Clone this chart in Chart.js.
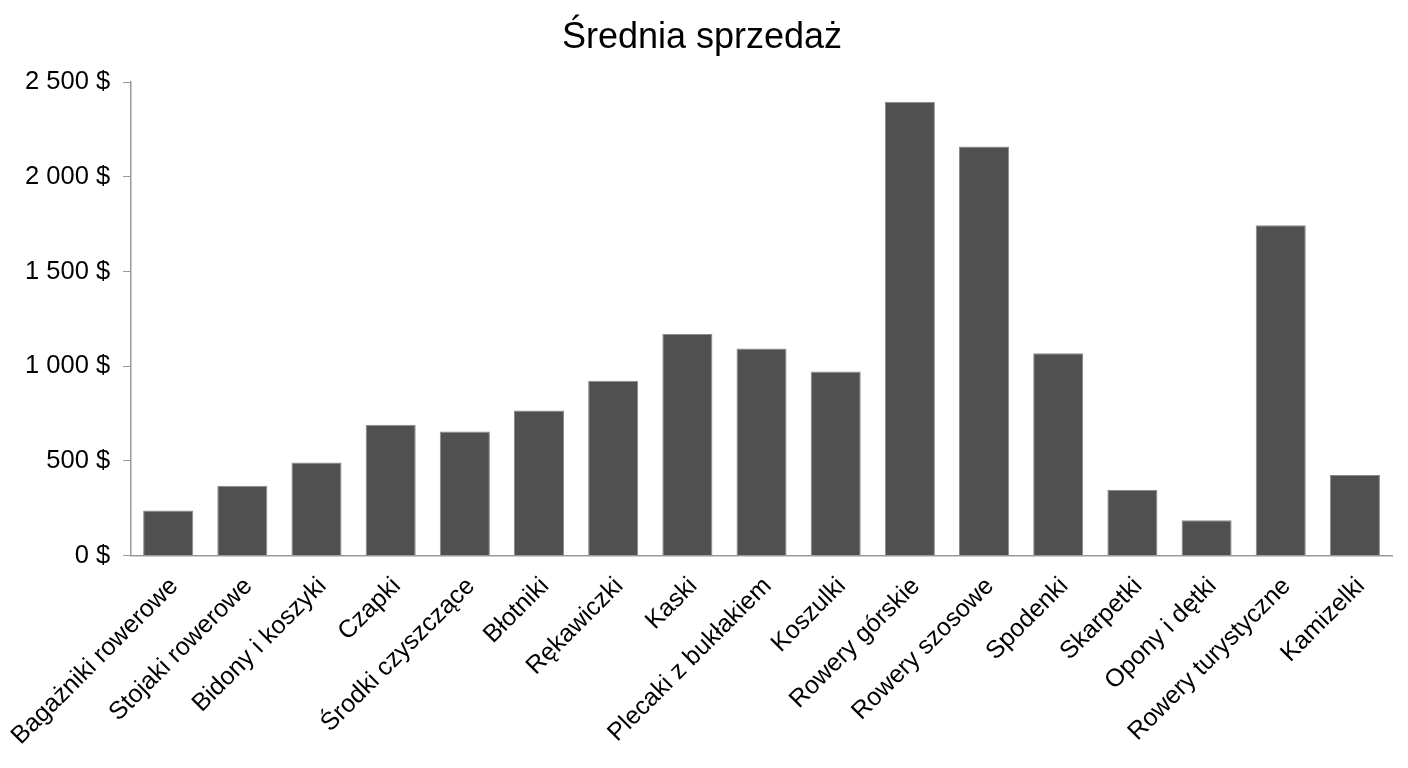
<!DOCTYPE html>
<html>
<head>
<meta charset="utf-8">
<script src="https://cdn.jsdelivr.net/npm/chart.js@4"></script>
<style>
  html, body { margin: 0; padding: 0; background: #ffffff; }
  #wrap { width: 1408px; height: 768px; position: relative; }
</style>
</head>
<body>
<div id="wrap"><canvas id="c" width="1408" height="768"></canvas></div>
<script>
const chartTitle = "Średnia sprzedaż";
const categories = [
  "Bagażniki rowerowe", "Stojaki rowerowe", "Bidony i koszyki", "Czapki",
  "Środki czyszczące", "Błotniki", "Rękawiczki", "Kaski", "Plecaki z bukłakiem",
  "Koszulki", "Rowery górskie", "Rowery szosowe", "Spodenki", "Skarpetki",
  "Opony i dętki", "Rowery turystyczne", "Kamizelki"
];
const avgSales = [238, 369, 491, 691, 656, 766, 924, 1170, 1094, 972, 2397, 2161, 1069, 346, 186, 1745, 426];
const yTicks = [0, 500, 1000, 1500, 2000, 2500];

function fmt(v) {
  return String(v).replace(/\B(?=(\d{3})+(?!\d))/g, " ") + " $";
}

Chart.defaults.font.family = "'Liberation Sans', Arial, sans-serif";
Chart.defaults.color = "#000000";

new Chart(document.getElementById("c"), {
  type: "bar",
  data: {
    labels: categories,
    datasets: [{
      data: avgSales,
      backgroundColor: "#505050",
      borderColor: "#8a8a8a",
      borderWidth: 1,
      barPercentage: 0.9,
      categoryPercentage: 0.75
    }]
  },
  options: {
    responsive: false,
    animation: false,
    devicePixelRatio: 1,
    layout: { padding: { left: 12, right: 16, top: 3, bottom: 9 } },
    plugins: {
      legend: { display: false },
      tooltip: { enabled: false },
      title: {
        display: true,
        text: chartTitle,
        font: { size: 36, weight: "normal" },
        color: "#000000",
        padding: { top: 13, bottom: 23 }
      }
    },
    scales: {
      x: {
        afterFit: (s) => { s.paddingLeft = 0; },
        grid: { display: false },
        border: { display: true, color: "#999999", width: 1.5 },
        ticks: {
          maxRotation: 45,
          minRotation: 45,
          autoSkip: false,
          font: { size: 25 },
          color: "#000000",
          padding: 8,
          labelOffset: 6
        }
      },
      y: {
        min: 0,
        max: 2500,
        afterBuildTicks: (axis) => { axis.ticks = yTicks.map(v => ({ value: v })); },
        grid: { display: true, drawOnChartArea: false, drawTicks: true, tickLength: 8, color: "#999999" },
        border: { display: true, color: "#999999", width: 1.5 },
        ticks: {
          font: { size: 25.5 },
          color: "#000000",
          padding: 13,
          callback: (v) => fmt(v)
        }
      }
    }
  }
});
</script>
</body>
</html>
